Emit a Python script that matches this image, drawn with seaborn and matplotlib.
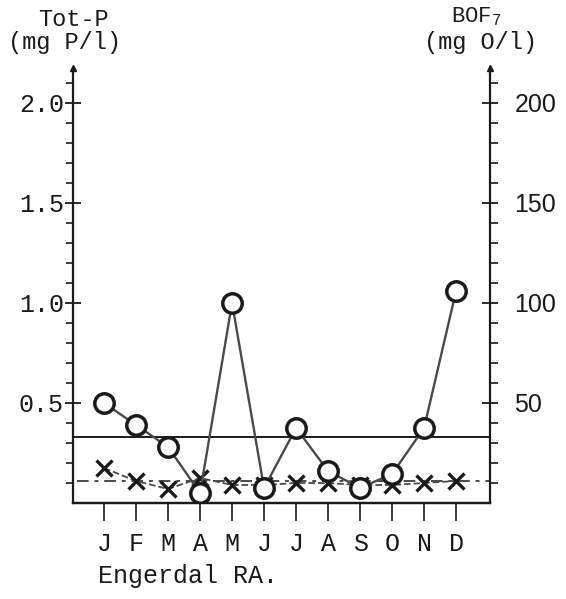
import numpy as np
import pandas as pd
import matplotlib
matplotlib.use('Agg')
import matplotlib.pyplot as plt
import seaborn as sns

# data
months = ['J', 'F', 'M', 'A', 'M', 'J', 'J', 'A', 'S', 'O', 'N', 'D']
tot_p = [0.50, 0.39, 0.28, 0.05, 1.00, 0.075, 0.375, 0.16, 0.075, 0.145, 0.375, 1.06]
bof7 = [17.5, 11, 7, 12.5, 9, 9, 10, 10, 9, 9, 10, 11]
limit_p = 0.33
limit_bof = 11

W, H = 566, 599
MONO = 'Liberation Mono'
INK = '#1a1a1a'
GREY = '#4a4a4a'

sns.set_style('ticks')
plt.rcParams['font.family'] = [MONO, 'DejaVu Sans']
plt.rcParams['mathtext.fontset'] = 'custom'
plt.rcParams['mathtext.rm'] = MONO

df = pd.DataFrame({'pos': np.arange(len(months)), 'tot_p': tot_p, 'bof7': bof7})

fig = plt.figure(figsize=(W / 100, H / 100), dpi=100)
ax = fig.add_axes([73 / W, 96 / H, (490 - 73) / W, (503 - 68) / H])
ax2 = ax.twinx()

# reference lines
ax.axhline(limit_p, color=INK, lw=1.4, zorder=1)
ax2.axhline(limit_bof, xmin=0.01, color=GREY, lw=1.4, ls=(0, (6, 3, 2, 3)), zorder=1)

# BOF7 crosses on the right axis
sns.lineplot(data=df, x='pos', y='bof7', ax=ax2, color=GREY, lw=1.3,
             linestyle='--', marker='x', markersize=12, markeredgewidth=2.4,
             markeredgecolor=INK, zorder=2)

# Tot-P circles on the left axis
ax.set_zorder(ax2.get_zorder() + 1)
ax.patch.set_visible(False)
sns.lineplot(data=df, x='pos', y='tot_p', ax=ax, color=GREY, lw=1.7,
             marker='o', markersize=14, markerfacecolor='white',
             markeredgecolor=INK, markeredgewidth=2.5, zorder=3)

ax.set_xlim(-0.97, 12.06)
ax2.set_xlim(-0.97, 12.06)
ax.set_ylim(0, 2.175)
ax2.set_ylim(0, 217.5)

ax.set_xticks(df['pos'])
ax.set_xticklabels(months, fontsize=18, family=MONO)
ax.set_yticks([0.5, 1.0, 1.5, 2.0])
ax.set_yticklabels(['0.5', '1.0', '1.5', '2.0'], fontsize=18, family=MONO)
ax.set_yticks(np.arange(0.1, 2.15, 0.1), minor=True)
ax2.set_yticks([50, 100, 150, 200])
ax2.set_yticklabels(['50', '100', '150', '200'], fontsize=18, family='Liberation Sans')
ax2.set_yticks(np.arange(10, 215, 10), minor=True)

ax.set_xlabel('')
ax.set_ylabel('')
ax2.set_ylabel('')

ax.tick_params(axis='x', direction='out', length=13, width=1.2, pad=8, colors=INK)
ax.tick_params(axis='y', which='major', direction='inout', length=11, width=1.3, pad=1, colors=INK)
ax.tick_params(axis='y', which='minor', direction='out', length=5, width=1.2, colors=INK)
ax2.tick_params(axis='y', which='major', direction='inout', length=11, width=1.3, pad=12, colors=INK)
ax2.tick_params(axis='y', which='minor', direction='out', length=6, width=1.2, colors=INK)

for a in (ax, ax2):
    a.spines['top'].set_visible(False)
    for s in ('left', 'right', 'bottom'):
        a.spines[s].set_linewidth(1.6)
        a.spines[s].set_color(INK)
ax2.spines['left'].set_visible(False)
ax.spines['right'].set_visible(False)

# small arrowheads on top of the two value axes
for xf in (0, 1):
    ax.plot([xf], [1.0], marker='^', ms=4, color=INK, transform=ax.transAxes, clip_on=False)

# axis headers and station name
def ftext(x, y, s, **kw):
    fig.text(x / W, 1 - y / H, s, ha='center', va='center', color=INK, **kw)

ftext(73, 19, 'Tot-P', fontsize=17, family=MONO)
ftext(65, 42, '(mg P/l)', fontsize=17, family=MONO)
ftext(476, 17, r'BOF$_{7}$', fontsize=16, family=MONO)
ftext(480, 42, '(mg O/l)', fontsize=17, family=MONO)
fig.text(98 / W, 1 - 576 / H, 'Engerdal RA.', ha='left', va='center',
         fontsize=18, family=MONO, color=INK)

plt.savefig('out.png', dpi=100)
